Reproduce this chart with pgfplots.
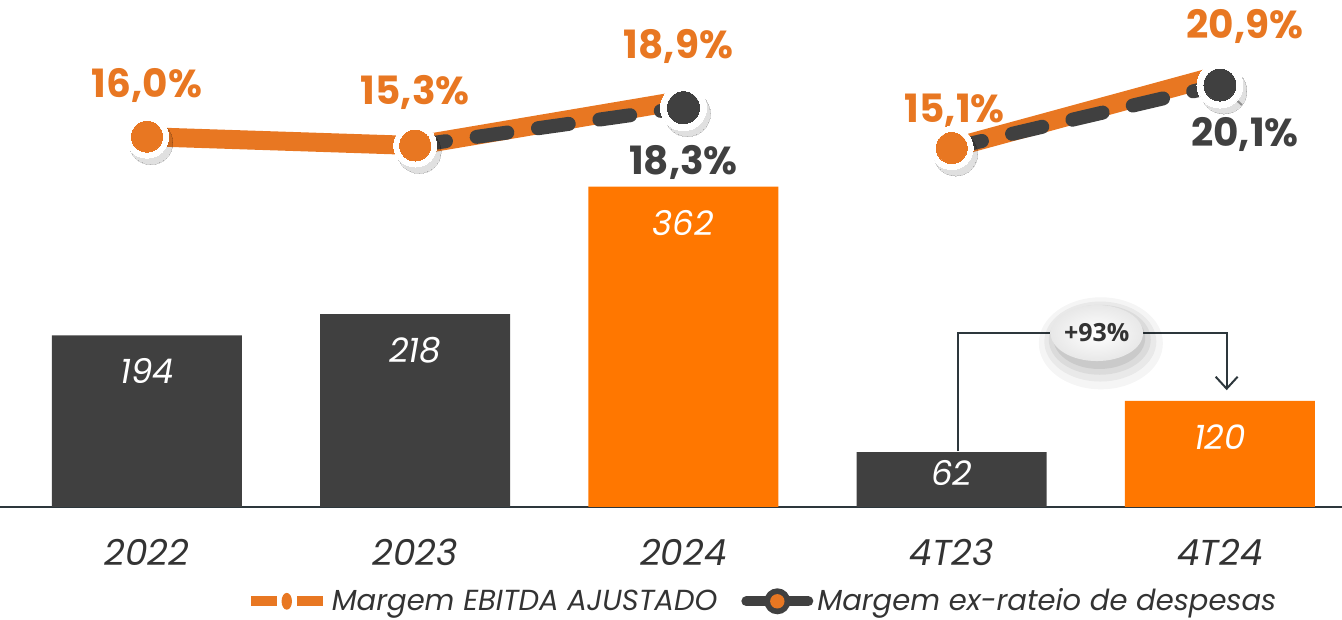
\documentclass[border=0pt]{standalone}
\usepackage{pgfplots}
\pgfplotsset{compat=1.18}
\usepackage{fontspec}
\setmainfont{Poppins}
\newfontfamily\osans{Open Sans}
\usetikzlibrary{arrows.meta,shapes.geometric}
\definecolor{barorange}{RGB}{255,119,0}
\definecolor{lineorange}{RGB}{232,119,34}
\definecolor{darkbar}{RGB}{64,64,64}
\definecolor{txtdark}{RGB}{51,51,51}
\definecolor{axisline}{RGB}{45,55,60}

\begin{document}
\begin{tikzpicture}
% bars
\begin{axis}[
  scale only axis, width=671pt, height=253.5pt,
  xmin=-0.548, xmax=4.455, ymin=0, ymax=573,
  axis y line=none, axis x line*=bottom,
  axis line style={axisline, line width=1pt},
  xtick={0,1,2,3,4}, xticklabels={2022,2023,2024,4T23,4T24},
  major tick length=0pt,
  xticklabel style={font=\fontsize{18}{18}\selectfont\itshape, text=txtdark, anchor=center, yshift=-22.5pt},
  bar width=95pt,
  clip=false,
]
\addplot[ybar, bar shift=0pt, fill=darkbar, draw=none] coordinates {(0,194)(1,218)(3,62)};
\addplot[ybar, bar shift=0pt, fill=barorange, draw=none] coordinates {(2,362)(4,120)};

\tikzset{barlab/.style={font=\fontsize{17}{17}\selectfont\itshape, text=white, anchor=center}}
\node[barlab, yshift=-18pt] at (axis cs:0,194) {194};
\node[barlab, yshift=-18pt] at (axis cs:1,218) {218};
\node[barlab, yshift=-18pt] at (axis cs:2,362) {362};
\node[barlab, yshift=-10.5pt] at (axis cs:3,62) {62};
\node[barlab, yshift=-18pt] at (axis cs:4,120) {120};

% growth bracket
\draw[axisline, line width=1pt, -{Straight Barb[length=6pt, width=11pt]}]
  (axis cs:3.023,63) -- (axis cs:3.023,196.6) -- (axis cs:4.025,196.6) -- (axis cs:4.025,132);
\fill[black, opacity=0.04] (axis cs:3.556,185) ellipse (31pt and 23pt);
\fill[black, opacity=0.05] (axis cs:3.554,187) ellipse (28pt and 20pt);
\fill[black, opacity=0.06] (axis cs:3.552,189) ellipse (25.5pt and 17.5pt);
\fill[black, opacity=0.08] (axis cs:3.550,191) ellipse (23pt and 15.5pt);
\node[ellipse, minimum width=43pt, minimum height=28pt, inner sep=0pt,
  inner color=white, outer color=gray!18, draw=none,
  font=\osans\fontsize{12.5}{12.5}\selectfont\bfseries, text=txtdark]
  at (axis cs:3.541,196.6) {+93\%};
\end{axis}

% margins
\begin{axis}[
  scale only axis, width=671pt, height=253.5pt,
  xmin=-0.548, xmax=4.455, ymin=-13.39, ymax=26.85,
  hide axis, clip=false,
  legend columns=2,
  legend cell align=left,
  legend style={draw=none, fill=none, at={(0.5686,-0.186)}, anchor=center,
    font=\fontsize{14.5}{14.5}\selectfont\itshape, text=txtdark,
    /tikz/every even column/.append style={column sep=10pt}},
]
\addplot[lineorange, line width=9.5pt,
  legend image code/.code={
    \draw[lineorange, solid, line cap=butt, line width=5pt] (0pt,0pt) -- (13pt,0pt);
    \draw[lineorange, solid, line cap=butt, line width=5pt] (23pt,0pt) -- (36pt,0pt);
    \fill[lineorange, draw=none, line width=0pt] (18pt,0pt) ellipse (2.6pt and 4.2pt);
  }] coordinates {(0,16.0)(1,15.3)(2,18.9)};
\addlegendentry{Margem EBITDA AJUSTADO}
\addplot[lineorange, line width=9.5pt, forget plot] coordinates {(3,15.1)(4,20.9)};
% orange markers: shadow, white ring, fill
\addplot[only marks, mark=*, forget plot, black, opacity=0.12, mark size=11pt,
  mark options={line width=0pt, xshift=2pt, yshift=-3pt}]
  coordinates {(0,16.0)(1,15.3)(3,15.1)};
\addplot[only marks, mark=*, forget plot, white, mark size=10.75pt,
  mark options={line width=0pt}]
  coordinates {(0,16.0)(1,15.3)(3,15.1)};
\addplot[only marks, mark=*, forget plot, lineorange, mark size=7.75pt,
  mark options={line width=0pt}]
  coordinates {(0,16.0)(1,15.3)(3,15.1)};

\addplot[darkbar, line width=7pt, line cap=round, dash pattern=on 15.5pt off 15.5pt,
  legend image code/.code={
    \draw[darkbar, solid, line cap=round, line width=5pt] (2pt,0pt) -- (33pt,0pt);
    \fill[darkbar, draw=none, line width=0pt] (17.5pt,0pt) circle (6.5pt);
    \fill[lineorange, draw=none, line width=0pt] (17.5pt,0pt) circle (3.6pt);
  }] coordinates {(1,15.3)(2,18.3)};
\addlegendentry{Margem ex-rateio de despesas}
\addplot[darkbar, line width=7pt, line cap=round, dash pattern=on 15.5pt off 15.5pt, forget plot]
  coordinates {(3,15.1)(4,20.1)};
% dark markers: shadow, white ring, fill
\addplot[only marks, mark=*, forget plot, black, opacity=0.12, mark size=11.5pt,
  mark options={line width=0pt, xshift=2pt, yshift=-3pt}]
  coordinates {(2,18.3)(4,20.1)};
\addplot[only marks, mark=*, forget plot, white, mark size=11.5pt,
  mark options={line width=0pt}]
  coordinates {(2,18.3)(4,20.1)};
\addplot[only marks, mark=*, forget plot, darkbar, mark size=8pt,
  mark options={line width=0pt}]
  coordinates {(2,18.3)(4,20.1)};
\draw[gray!70, line width=1pt] (axis cs:4,20.1) -- ++(11pt,-10pt);

\tikzset{pct/.style={font=\fontsize{19.5}{19.5}\selectfont\bfseries, anchor=center}}
\node[pct, text=lineorange, yshift=25.5pt] at (axis cs:0,16.0) {16,0\%};
\node[pct, text=lineorange, yshift=26.5pt] at (axis cs:1,15.3) {15,3\%};
\node[pct, text=lineorange, yshift=27pt, xshift=-2.5pt] at (axis cs:2,18.9) {18,9\%};
\node[pct, text=darkbar, yshift=-27.5pt] at (axis cs:2,18.3) {18,3\%};
\node[pct, text=lineorange, yshift=18.5pt, xshift=1.5pt] at (axis cs:3,15.1) {15,1\%};
\node[pct, text=lineorange, yshift=24.5pt, xshift=12.5pt] at (axis cs:4,20.9) {20,9\%};
\node[pct, text=darkbar, yshift=-24.5pt, xshift=12.5pt] at (axis cs:4,20.1) {20,1\%};
\end{axis}
\pgfresetboundingbox
\useasboundingbox (0pt,-56.5pt) rectangle (671pt,253.5pt);
\end{tikzpicture}
\end{document}
